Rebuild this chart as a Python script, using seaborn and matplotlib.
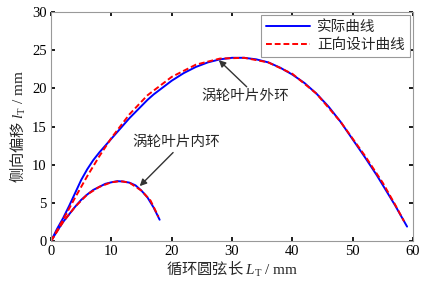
import matplotlib
matplotlib.use("Agg")
import matplotlib.pyplot as plt
import seaborn as sns
import pandas as pd

# Outer ring (涡轮叶片外环)
outer_x_actual = [0, 1, 2, 3, 4, 5, 6, 7, 8, 9, 10, 11, 12, 13, 14, 15, 16, 17, 18, 20, 22, 24, 26, 28, 30, 32, 34, 36, 38, 40, 42, 44, 46, 48, 50, 52, 54, 56, 57, 58, 59]
outer_y_actual = [0, 1.6, 3.0, 4.6, 6.3, 8.0, 9.4, 10.6, 11.6, 12.5, 13.4, 14.3, 15.2, 16.1, 16.9, 17.7, 18.5, 19.2, 19.8, 21.0, 22.0, 22.8, 23.4, 23.8, 24.0, 24.0, 23.8, 23.4, 22.7, 21.8, 20.7, 19.3, 17.6, 15.6, 13.3, 11.0, 8.6, 6.0, 4.7, 3.3, 1.9]
outer_x_design = [0, 2, 4, 6, 8, 10, 13, 16, 20, 24, 28, 32, 36, 40, 44, 48, 52, 55, 57, 58.5]
outer_y_design = [0, 2.8, 5.7, 8.5, 11.1, 13.5, 16.6, 19.1, 21.5, 23.1, 23.9, 24.0, 23.4, 21.9, 19.3, 15.6, 11.2, 7.6, 4.8, 2.6]

# Inner ring (涡轮叶片内环)
inner_x_actual = [0, 1, 2, 3, 4, 5, 6, 7, 8, 9, 10, 11, 12, 13, 14, 15, 16, 17, 18]
inner_y_actual = [0, 1.3, 2.5, 3.5, 4.5, 5.4, 6.1, 6.7, 7.1, 7.5, 7.7, 7.85, 7.8, 7.65, 7.3, 6.6, 5.7, 4.4, 2.8]
inner_x_design = [0, 2, 4, 6, 8, 10, 11.5, 13, 15, 16.5, 17.8]
inner_y_design = [0, 2.5, 4.5, 6.1, 7.1, 7.7, 7.85, 7.65, 6.6, 5.3, 3.2]

series_labels = ["实际曲线", "正向设计曲线"]
xticks = [0, 10, 20, 30, 40, 50, 60]
yticks = [0, 5, 10, 15, 20, 25, 30]

sns.set_theme(style="white")
plt.rcParams['font.family'] = ['Liberation Serif', 'Noto Sans CJK SC']
plt.rcParams['mathtext.fontset'] = 'custom'
plt.rcParams['mathtext.rm'] = 'Liberation Serif'
plt.rcParams['mathtext.it'] = 'Liberation Serif:italic'
plt.rcParams['axes.unicode_minus'] = False

def frame(xs, ys, label, ring):
    return pd.DataFrame({"x": xs, "y": ys, "series": label, "ring": ring})

df = pd.concat([
    frame(outer_x_design, outer_y_design, series_labels[1], "outer"),
    frame(inner_x_design, inner_y_design, series_labels[1], "inner"),
    frame(outer_x_actual, outer_y_actual, series_labels[0], "outer"),
    frame(inner_x_actual, inner_y_actual, series_labels[0], "inner"),
], ignore_index=True)

fig = plt.figure(figsize=(4.25, 2.85), dpi=100)
ax = fig.add_axes([0.12, 0.154, 0.852, 0.804])

sns.lineplot(data=df, x="x", y="y", hue="series", style="series", units="ring",
             estimator=None, sort=False, ax=ax,
             hue_order=series_labels, style_order=series_labels,
             palette={series_labels[0]: "#0000ff", series_labels[1]: "#ff0000"},
             dashes={series_labels[0]: "", series_labels[1]: (3, 1.5)},
             linewidth=1.4)

ax.set_xlim(0, 60)
ax.set_ylim(0, 30)
ax.set_xticks(xticks)
ax.set_yticks(yticks)
ax.tick_params(direction="in", length=3, labelsize=10.5, colors="black",
               top=True, right=True, bottom=True, left=True, pad=3)
for t in ax.get_xticklines() + ax.get_yticklines():
    t.set_color("#999999")
for s in ax.spines.values():
    s.set_color("#999999")
    s.set_linewidth(0.8)

cjk = ['Noto Sans CJK SC', 'Liberation Serif']
ax.set_xlabel(r"循环圆弦长 $L_{\rm T}\ /\ \mathrm{mm}$", fontsize=11, labelpad=1, family=cjk)
ax.set_ylabel(r"侧向偏移 $l_{\rm T}\ /\ \mathrm{mm}$", fontsize=11, labelpad=3, family=cjk)

leg = ax.legend(loc="upper right", fontsize=10.5, frameon=True, fancybox=False,
                borderpad=0.35, handlelength=3.0, labelspacing=0.3,
                borderaxespad=0.2, edgecolor="#999999", framealpha=1,
                handletextpad=0.5)
leg.get_frame().set_linewidth(0.8)
for lh in leg.get_lines():
    lh.set_linewidth(1.4)

arrow = dict(arrowstyle="-|>", color="#333333", lw=1.0, mutation_scale=10)
ax.annotate("涡轮叶片外环", xy=(27.8, 23.7), xytext=(25.0, 18.9),
            fontsize=10.5, ha="left", va="center",
            arrowprops=dict(arrow, shrinkA=0, shrinkB=0, relpos=(0.55, 1.0)))
ax.annotate("涡轮叶片内环", xy=(14.7, 7.2), xytext=(13.5, 12.9),
            fontsize=10.5, ha="left", va="center",
            arrowprops=dict(arrow, shrinkA=0, shrinkB=0, relpos=(0.5, 0.0)))

fig.savefig("out.png", dpi=100)
